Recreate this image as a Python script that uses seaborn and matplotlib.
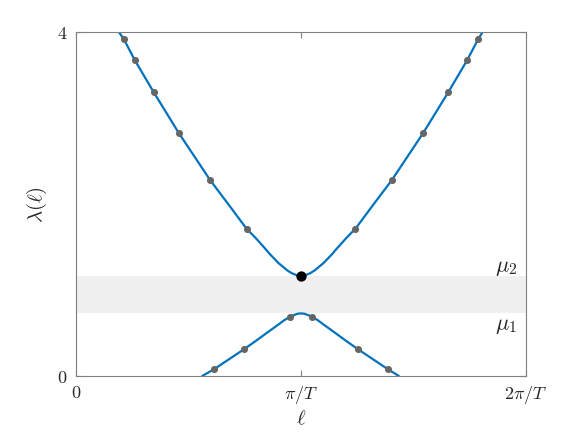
import matplotlib
matplotlib.use("Agg")
import matplotlib.pyplot as plt
import seaborn as sns

# x in units of pi/T, y = lambda(ell)
upper_x = [0.192, 0.213, 0.262, 0.345, 0.457, 0.596, 0.68, 0.758, 0.80, 0.847, 0.86, 0.90, 0.94, 0.96, 0.98, 1.0,
           1.02, 1.04, 1.06, 1.10, 1.14, 1.153, 1.20, 1.242, 1.32, 1.404, 1.543, 1.655, 1.738, 1.787, 1.806]
upper_y = [4.0, 3.92, 3.675, 3.306, 2.829, 2.282, 1.99, 1.715, 1.603, 1.465, 1.424, 1.315, 1.228, 1.196, 1.175, 1.168,
           1.175, 1.196, 1.228, 1.315, 1.424, 1.465, 1.603, 1.715, 1.99, 2.282, 2.829, 3.306, 3.675, 3.92, 4.0]

lower_x = [0.561, 0.613, 0.68, 0.748, 0.80, 0.847, 0.90, 0.925, 0.95, 0.965, 0.985, 1.0,
           1.015, 1.035, 1.05, 1.075, 1.10, 1.153, 1.20, 1.252, 1.32, 1.387, 1.435]
lower_y = [0.0, 0.078, 0.195, 0.314, 0.41, 0.50, 0.60, 0.649, 0.687, 0.706, 0.725, 0.729,
           0.725, 0.706, 0.687, 0.649, 0.60, 0.50, 0.41, 0.314, 0.195, 0.078, 0.0]

# sampled eigenvalues (grey dots)
dots_x = [0.213, 0.262, 0.345, 0.457, 0.596, 0.758, 1.242, 1.404, 1.543, 1.655, 1.738, 1.787,
          0.613, 0.748, 0.950, 1.050, 1.252, 1.387]
dots_y = [3.92, 3.675, 3.306, 2.829, 2.282, 1.715, 1.715, 2.282, 2.829, 3.306, 3.675, 3.92,
          0.078, 0.314, 0.687, 0.687, 0.314, 0.078]

edge_x = [1.0]
edge_y = [1.168]

mu1 = 0.733
mu2 = 1.163

xticks = [0, 1, 2]
xtick_labels = [r"$0$", r"$\pi/T$", r"$2\pi/T$"]
yticks = [0, 4]
ytick_labels = [r"$0$", r"$4$"]

sns.set_style("white")
plt.rcParams["mathtext.fontset"] = "cm"
plt.rcParams["font.family"] = ["DejaVu Serif"]

fig = plt.figure(figsize=(5.81, 4.36), dpi=100)
ax = fig.add_axes([0.1308, 0.1376, 0.7745, 0.7879])

blue = "#0072BD"
ax.axhspan(mu1, mu2, color="#f0f0f0", lw=0, zorder=0)

sns.lineplot(x=upper_x, y=upper_y, ax=ax, color=blue, lw=1.6, sort=False, zorder=2)
sns.lineplot(x=lower_x, y=lower_y, ax=ax, color=blue, lw=1.6, sort=False, zorder=2)
sns.scatterplot(x=dots_x, y=dots_y, ax=ax, color="#666666", s=26, edgecolor="#666666", lw=0, zorder=3)
sns.scatterplot(x=edge_x, y=edge_y, ax=ax, color="black", s=55, edgecolor="black", lw=0, zorder=4)

ax.text(1.96, 1.265, r"$\mu_2$", ha="right", va="center", fontsize=16)
ax.text(1.96, 0.59, r"$\mu_1$", ha="right", va="center", fontsize=16)

ax.set_xlim(0, 2)
ax.set_ylim(0, 4)
ax.set_xticks(xticks)
ax.set_xticklabels(xtick_labels, fontsize=13)
ax.set_yticks(yticks)
ax.set_yticklabels(ytick_labels, fontsize=13)
ax.tick_params(direction="in", length=4, width=0.8, color="#7f7f7f", top=True, right=True,
               bottom=True, left=True, pad=6)
for s in ax.spines.values():
    s.set_color("#7f7f7f")
    s.set_linewidth(0.8)

ax.set_xlabel(r"$\ell$", fontsize=15, labelpad=2)
ax.set_ylabel(r"$\lambda(\ell)$", fontsize=15, labelpad=6)

fig.savefig("out.png", dpi=100)
